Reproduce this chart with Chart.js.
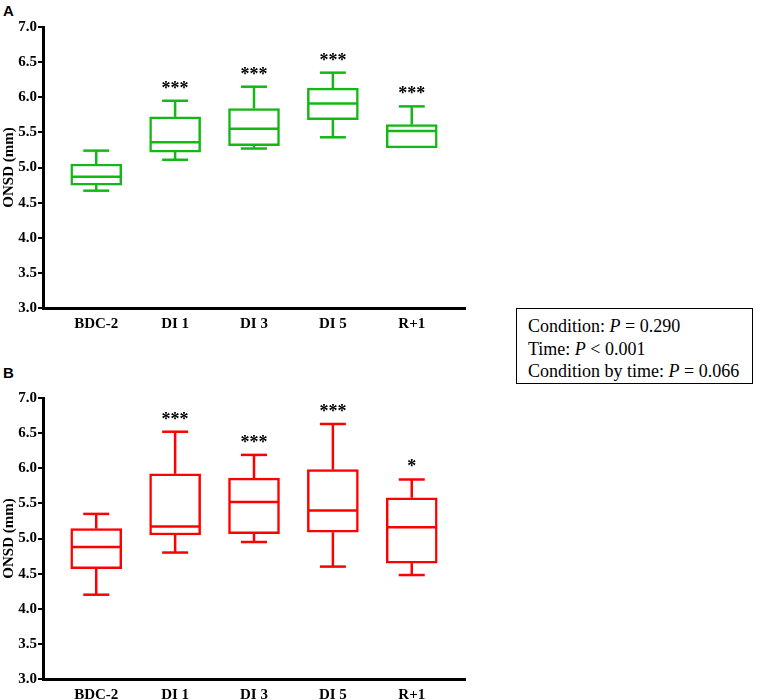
<!DOCTYPE html>
<html>
<head>
<meta charset="utf-8">
<script src="https://cdn.jsdelivr.net/npm/chart.js@4.4.0/dist/chart.umd.min.js"></script>
<style>
  html, body { margin: 0; padding: 0; background: #fff; width: 765px; height: 700px; overflow: hidden; }
  .panel { position: absolute; left: 0; width: 480px; height: 345px; }
  .letter { position: absolute; left: 3px; font: bold 15px "Liberation Sans", Arial, sans-serif; }
  #stats { position: absolute; left: 516px; top: 308px; width: 224px; height: 68px; border: 1.5px solid #000;
           padding: 6px 0 0 11px; font: 18px "Liberation Serif", "Times New Roman", serif; line-height: 22.7px; white-space: nowrap; }
</style>
</head>
<body>
<div class="letter" style="top:2px">A</div>
<div class="panel" style="top:0"><canvas id="chartA" width="480" height="345"></canvas></div>
<div class="letter" style="top:364px">B</div>
<div class="panel" style="top:371px"><canvas id="chartB" width="480" height="345"></canvas></div>
<div id="stats">
  Condition: <i>P</i> = 0.290<br>
  Time: <i>P</i> &lt; 0.001<br>
  Condition by time: <i>P</i> = 0.066
</div>
<script>
const categories = ['BDC-2', 'DI 1', 'DI 3', 'DI 5', 'R+1'];
const yTicks = [3.0, 3.5, 4.0, 4.5, 5.0, 5.5, 6.0, 6.5, 7.0];

// panel A (green)
const minA = [4.67, 5.11, 5.27, 5.43, 5.28];
const q1A  = [4.75, 5.22, 5.31, 5.68, 5.28];
const medA = [4.87, 5.36, 5.55, 5.91, 5.52];
const q3A  = [5.05, 5.72, 5.84, 6.13, 5.61];
const maxA = [5.24, 5.95, 6.15, 6.35, 5.87];
const sigA = ['', '***', '***', '***', '***'];

// panel B (red)
const minB = [4.20, 4.80, 4.95, 4.60, 4.48];
const q1B  = [4.57, 5.05, 5.07, 5.09, 4.65];
const medB = [4.88, 5.17, 5.52, 5.40, 5.16];
const q3B  = [5.14, 5.92, 5.86, 5.98, 5.58];
const maxB = [5.35, 6.52, 6.19, 6.63, 5.84];
const sigB = ['', '***', '***', '***', '*'];

const serif = '"Liberation Serif", "Times New Roman", serif';

function makeWhiskers(mins, q1, med, q3, maxs, sig, color) {
    return {
        id: 'whiskers',
        afterDatasetsDraw(chart) {
            const { ctx, scales: { x, y } } = chart;
            ctx.save();
            ctx.strokeStyle = color;
            ctx.lineWidth = 2.5;
            ctx.lineCap = 'butt';
            med.forEach((m, i) => {
                const cx = x.getPixelForValue(i);
                const line = (x1, y1, x2, y2) => {
                    ctx.beginPath(); ctx.moveTo(x1, y1); ctx.lineTo(x2, y2); ctx.stroke();
                };
                // median
                line(cx - 24.5, y.getPixelForValue(m), cx + 24.5, y.getPixelForValue(m));
                // upper whisker
                if (maxs[i] > q3[i]) {
                    line(cx, y.getPixelForValue(q3[i]), cx, y.getPixelForValue(maxs[i]));
                    line(cx - 13, y.getPixelForValue(maxs[i]), cx + 13, y.getPixelForValue(maxs[i]));
                }
                // lower whisker
                if (mins[i] < q1[i]) {
                    line(cx, y.getPixelForValue(q1[i]), cx, y.getPixelForValue(mins[i]));
                    line(cx - 13, y.getPixelForValue(mins[i]), cx + 13, y.getPixelForValue(mins[i]));
                }
            });
            // significance stars
            ctx.fillStyle = '#000';
            ctx.font = 'bold 18px ' + serif;
            ctx.textAlign = 'center';
            ctx.textBaseline = 'alphabetic';
            sig.forEach((s, i) => {
                if (s) ctx.fillText(s, x.getPixelForValue(i), y.getPixelForValue(maxs[i]) - 7);
            });
            ctx.restore();
        }
    };
}

function buildChart(canvasId, mins, q1, med, q3, maxs, sig, color) {
    const ctx = document.getElementById(canvasId).getContext('2d');
    return new Chart(ctx, {
        type: 'bar',
        data: {
            datasets: [{
                data: categories.map((c, i) => ({ x: i, y: [q1[i], q3[i]] })),
                backgroundColor: '#fff',
                borderColor: color,
                borderWidth: 2.5,
                borderSkipped: false,
                barThickness: 51
            }]
        },
        options: {
            responsive: false,
            animation: false,
            layout: { padding: { top: 27, right: 15, left: 0, bottom: 0 } },
            plugins: { legend: { display: false }, tooltip: { enabled: false } },
            scales: {
                x: {
                    type: 'linear',
                    offset: false,
                    min: -0.675,
                    max: 4.675,
                    afterBuildTicks: s => { s.ticks = categories.map((c, i) => ({ value: i })); },
                    afterFit: s => { s.height = 37; },
                    grid: { display: false },
                    border: { display: true, color: '#000', width: 3 },
                    ticks: {
                        callback: v => categories[v],
                        color: '#000',
                        padding: -1,
                        maxRotation: 0,
                        autoSkip: false,
                        font: { family: serif, size: 15, weight: 'bold' }
                    }
                },
                y: {
                    min: 3,
                    max: 7,
                    afterBuildTicks: s => { s.ticks = yTicks.map(v => ({ value: v })); },
                    afterFit: s => { s.width = 43; },
                    grid: { drawOnChartArea: false, drawTicks: true, tickLength: 5, color: '#000', lineWidth: 2 },
                    border: { display: true, color: '#000', width: 3 },
                    ticks: {
                        callback: v => v.toFixed(1),
                        color: '#000',
                        padding: 1,
                        font: { family: serif, size: 15, weight: 'bold' }
                    },
                    title: {
                        display: true,
                        text: 'ONSD (mm)',
                        color: '#000',
                        padding: 0,
                        font: { family: serif, size: 15, weight: 'bold' }
                    }
                }
            }
        },
        plugins: [makeWhiskers(mins, q1, med, q3, maxs, sig, color)]
    });
}

buildChart('chartA', minA, q1A, medA, q3A, maxA, sigA, '#14b814');
buildChart('chartB', minB, q1B, medB, q3B, maxB, sigB, '#ff0000');
</script>
</body>
</html>
